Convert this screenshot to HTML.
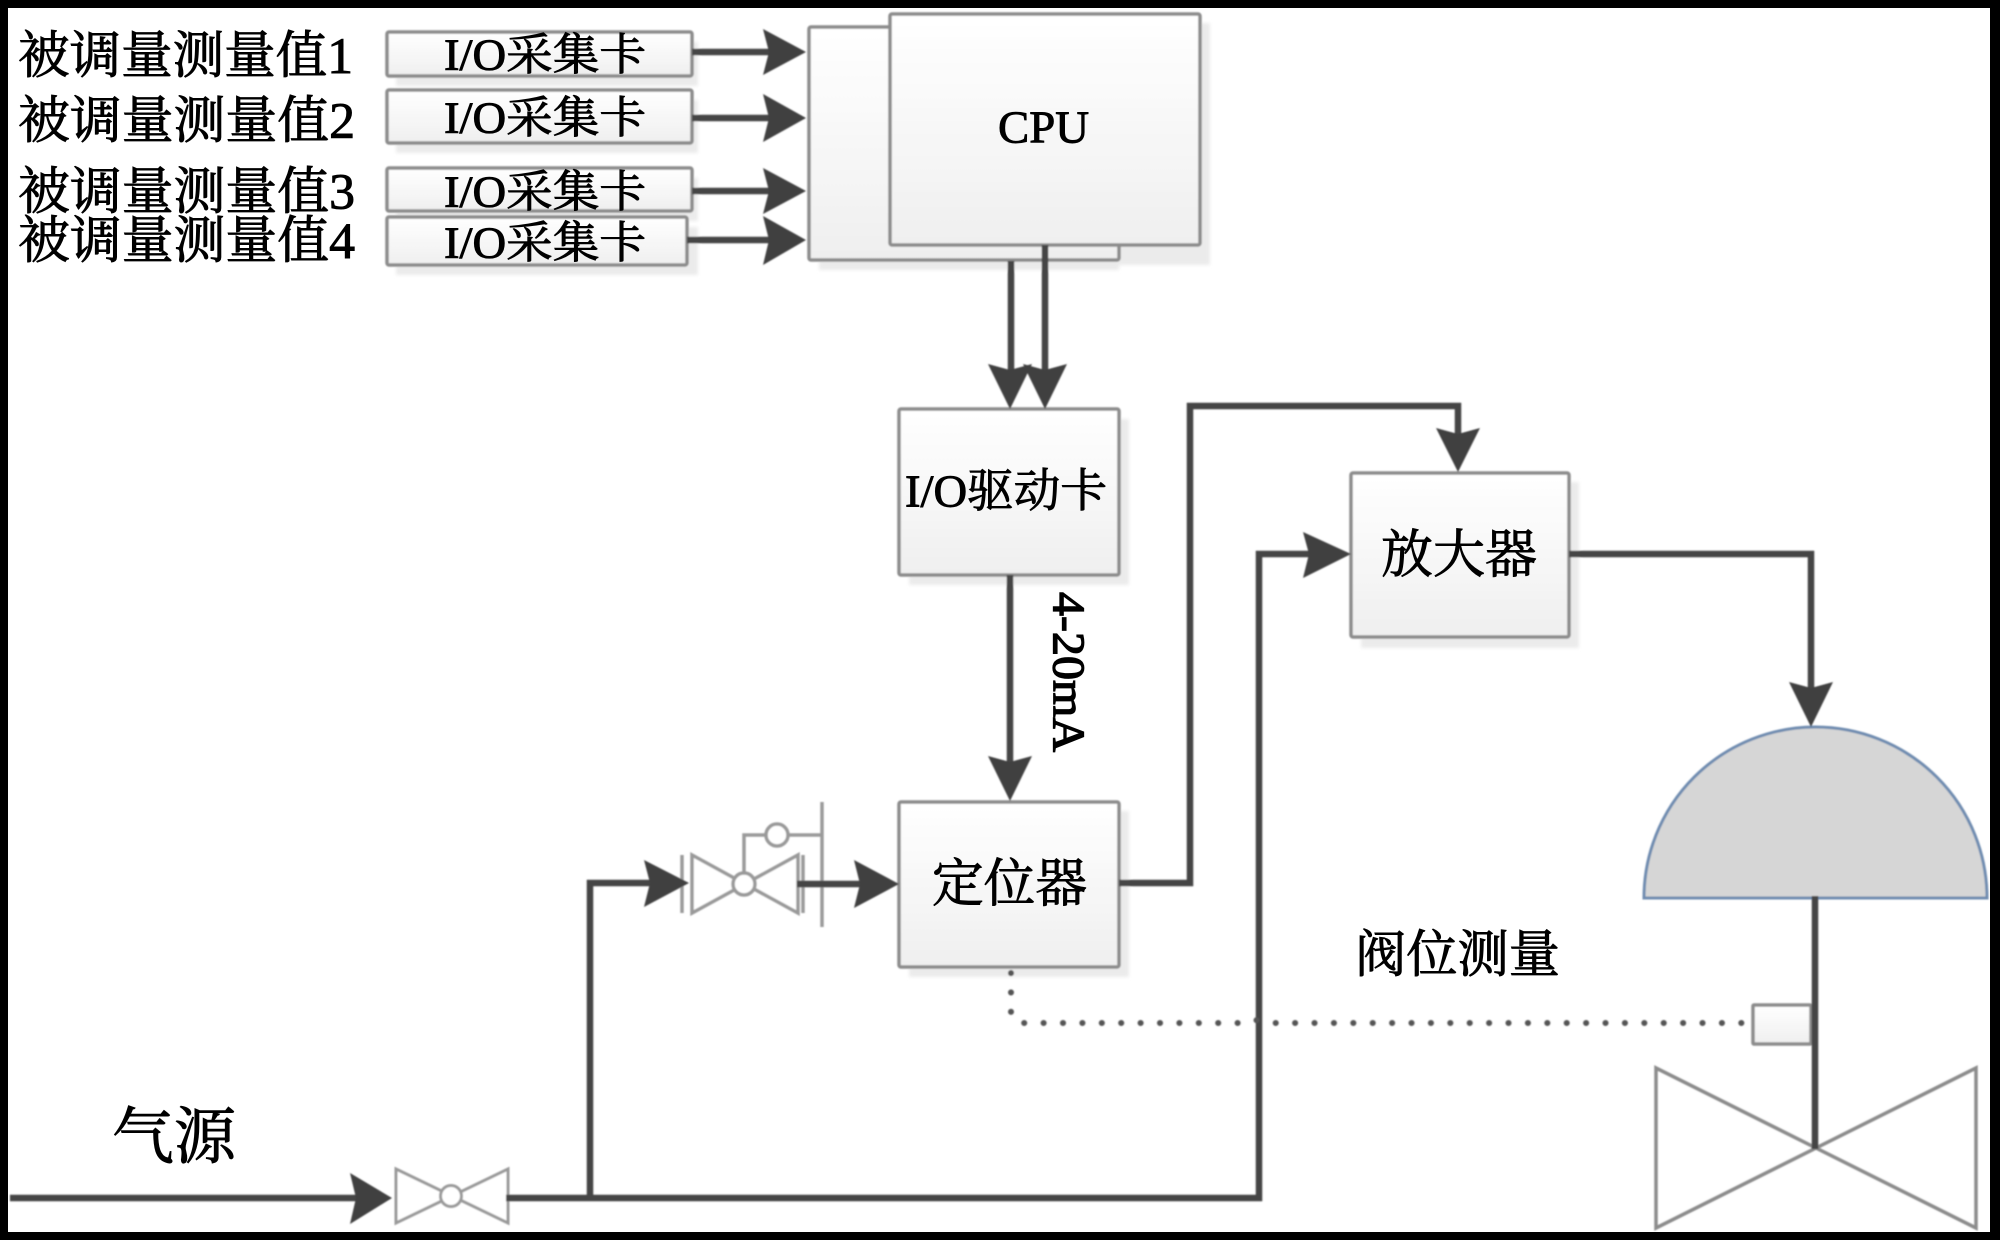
<!DOCTYPE html>
<html>
<head>
<meta charset="utf-8">
<style>
html,body{margin:0;padding:0;background:#000;}
svg{display:block;}
text{font-family:"Liberation Serif","Noto Serif CJK SC",serif;fill:#000;stroke:#000;stroke-width:0.9;dominant-baseline:central;}
</style>
</head>
<body>
<svg width="2000" height="1240" viewBox="0 0 2000 1240" xmlns="http://www.w3.org/2000/svg">
<defs>
<linearGradient id="g" x1="0" y1="0" x2="0" y2="1"><stop offset="0" stop-color="#ffffff"/><stop offset="1" stop-color="#efefef"/></linearGradient>
<filter id="b" x="-5%" y="-5%" width="110%" height="110%"><feGaussianBlur stdDeviation="0.8"/></filter>
<filter id="s" x="-10%" y="-10%" width="120%" height="120%"><feGaussianBlur stdDeviation="1.5"/></filter>
</defs>
<rect x="0" y="0" width="2000" height="1240" fill="#000"/>
<rect x="8" y="8" width="1982" height="1224" fill="#fff"/>
<g filter="url(#b)">
<!-- shadows -->
<g fill="#ebebeb" filter="url(#s)">
<rect x="396" y="42" width="302" height="44"/>
<rect x="396" y="100" width="302" height="53"/>
<rect x="396" y="178" width="302" height="43"/>
<rect x="396" y="227" width="302" height="48"/>
<rect x="819" y="36" width="300" height="234"/>
<rect x="900" y="23" width="310" height="242"/>
<rect x="909" y="419" width="220" height="166"/>
<rect x="909" y="811" width="220" height="166"/>
<rect x="1361" y="482" width="218" height="166"/>
</g>
<!-- boxes -->
<g fill="url(#g)" stroke="#8c8c8c" stroke-width="3.5">
<rect x="387" y="32" width="305" height="44" rx="2"/>
<rect x="387" y="90" width="305" height="53" rx="2"/>
<rect x="387" y="168" width="305" height="43" rx="2"/>
<rect x="387" y="217" width="300" height="48" rx="2"/>
<rect x="809" y="27" width="310" height="233" rx="2"/>
<rect x="890" y="14" width="310" height="231" rx="2"/>
<rect x="899" y="409" width="220" height="166" rx="2"/>
<rect x="899" y="802" width="220" height="165" rx="2"/>
<rect x="1351" y="473" width="218" height="164" rx="2"/>
<rect x="1753" y="1005" width="58" height="39" rx="1"/>
</g>
<!-- dome -->
<path d="M1644 898 A171.5 171 0 0 1 1987 898 Z" fill="#d6d6d6" stroke="#6f8cb0" stroke-width="3"/>
<!-- valves -->
<g fill="#fff" stroke="#9a9a9a" stroke-width="3">
<path d="M396 1169 L508 1223 L508 1169 L396 1223 Z"/>
<circle cx="451" cy="1196" r="10.5"/>
</g>
<g fill="none" stroke="#8c8c8c" stroke-width="3.5">
<path d="M1656 1068 L1976 1228 L1976 1068 L1656 1228 Z"/>
</g>
<g fill="none" stroke="#9a9a9a" stroke-width="3.5">
<path d="M692 855 L798 913 L798 855 L692 913 Z" fill="#fff"/>
<circle cx="744" cy="884" r="11" fill="#fff"/>
<path d="M744 873 V835 H822 M682 855 V913 M803 855 V913 M822 802 V927"/>
<circle cx="777" cy="835" r="11" fill="#fff"/>
</g>
<!-- connectors -->
<g fill="none" stroke="#444" stroke-width="6.5">
<path d="M692 52 H775 M692 118 H775 M692 191 H775 M687 240 H775"/>
<path d="M1011 261 V385 M1045 245 V385"/>
<path d="M1010 575 V775"/>
<path d="M1119 883 H1190 V406 H1458 V440"/>
<path d="M1569 554 H1811 V695"/>
<path d="M10 1198 H365"/>
<path d="M506 1198 H1259 V554 H1315"/>
<path d="M590 1198 V883 H660"/>
<path d="M797 884 H866"/>
<path d="M1815 896 V1149"/>
</g>
<!-- dotted -->
<path d="M1011 973 V1012 L1018 1023 H1244 L1254 1020 L1264 1021 L1274 1023 H1753" fill="none" stroke="#555" stroke-width="6" stroke-linecap="round" stroke-dasharray="0.1 19.3"/>
<!-- arrowheads -->
<g fill="#404040">
<polygon points="806,52 763,29 769,52 763,75"/>
<polygon points="806,118 763,94 769,118 763,142"/>
<polygon points="806,191 763,168 769,191 763,214"/>
<polygon points="806,240 763,216 769,240 763,265"/>
<polygon points="1010,409 988,364 1010,370 1032,364"/>
<polygon points="1045,409 1023,364 1045,370 1067,364"/>
<polygon points="1010,801 988,756 1010,762 1032,756"/>
<polygon points="1458,472 1436,428 1458,434 1480,428"/>
<polygon points="1811,727 1789,682 1811,688 1833,682"/>
<polygon points="1351,554 1303,532 1309,554 1303,578"/>
<polygon points="392,1198 350,1173 356,1198 350,1224"/>
<polygon points="689,883 644,860 650,883 644,907"/>
<polygon points="899,884 854,860 860,884 854,908"/>
</g>
</g>
<!-- labels -->
<text x="18" y="57" font-size="51" textLength="335" lengthAdjust="spacingAndGlyphs">被调量测量值1</text>
<text x="18" y="122" font-size="51" textLength="337" lengthAdjust="spacingAndGlyphs">被调量测量值2</text>
<text x="18" y="193" font-size="51" textLength="337" lengthAdjust="spacingAndGlyphs">被调量测量值3</text>
<text x="18" y="242" font-size="51" textLength="337" lengthAdjust="spacingAndGlyphs">被调量测量值4</text>
<text x="444" y="55" font-size="44" textLength="202" lengthAdjust="spacingAndGlyphs">I/O采集卡</text>
<text x="444" y="118" font-size="44" textLength="202" lengthAdjust="spacingAndGlyphs">I/O采集卡</text>
<text x="444" y="192" font-size="44" textLength="202" lengthAdjust="spacingAndGlyphs">I/O采集卡</text>
<text x="444" y="243" font-size="44" textLength="202" lengthAdjust="spacingAndGlyphs">I/O采集卡</text>
<text x="998" y="127" font-size="46" textLength="91" lengthAdjust="spacingAndGlyphs">CPU</text>
<text x="905" y="491" font-size="46" textLength="202" lengthAdjust="spacingAndGlyphs">I/O驱动卡</text>
<text x="1381" y="556" font-size="52" textLength="156" lengthAdjust="spacingAndGlyphs">放大器</text>
<text x="932" y="885" font-size="52" textLength="155" lengthAdjust="spacingAndGlyphs">定位器</text>
<text x="1355" y="956" font-size="51" textLength="205" lengthAdjust="spacingAndGlyphs">阀位测量</text>
<text x="112" y="1138" font-size="62" textLength="124" lengthAdjust="spacingAndGlyphs">气源</text>
<text transform="translate(1069 672) rotate(90)" x="-80" y="0" font-size="46" textLength="160" lengthAdjust="spacingAndGlyphs" style="stroke-width:1.3">4-20mA</text>
</svg>
</body>
</html>
